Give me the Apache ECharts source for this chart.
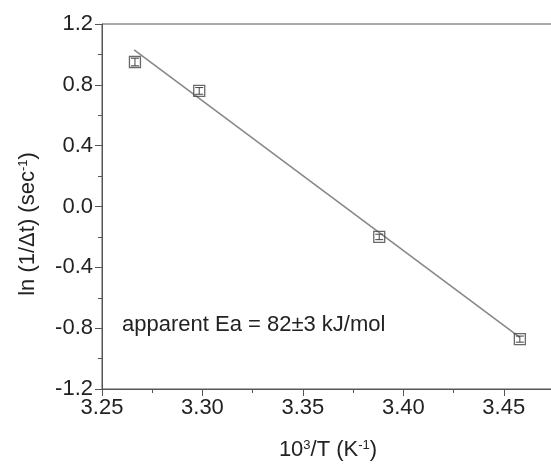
<!DOCTYPE html>
<html>
<head>
<meta charset="utf-8">
<script src="https://cdn.jsdelivr.net/npm/echarts@6/dist/echarts.min.js"></script>
<style>
  html, body { margin: 0; padding: 0; background: #fff; }
  #main { width: 551px; height: 464px; }
</style>
</head>
<body>
<div id="main"></div>
<script>
// 数据
var invT = [3.2664, 3.2984, 3.388, 3.458];
var lnRate = [0.95, 0.76, -0.2, -0.872];
var errs = [0.025, 0.022, 0.018, 0.02];
var fitX = [3.266, 3.458];
var fitY = [1.03, -0.86];

var chart = echarts.init(document.getElementById('main'));

var pts = invT.map(function (x, i) { return [x, lnRate[i], errs[i]]; });
var fit = fitX.map(function (x, i) { return [x, fitY[i]]; });

var axisColor = '#555';
var font = 'Liberation Sans, Arial, sans-serif';

option = {
    animation: false,
    grid: {
        left: 102, top: 24, width: 452, height: 365,
        outerBoundsMode: 'none',
        containLabel: false,
        show: true, borderColor: axisColor, borderWidth: 1
    },
    xAxis: {
        type: 'value', min: 3.25, max: 3.475, interval: 0.05,
        axisLine: { onZero: false, lineStyle: { color: axisColor } },
        axisTick: { length: 7, lineStyle: { color: axisColor } },
        minorTick: { show: true, splitNumber: 2, length: 4, lineStyle: { color: axisColor } },
        splitLine: { show: false },
        axisLabel: {
            color: '#222', fontSize: 22, fontFamily: font, margin: 8,
            showMaxLabel: false,
            formatter: function (v) { return v.toFixed(2); }
        },
        name: '10{s|3}/T (K{s|-1})',
        nameLocation: 'middle', nameGap: 50,
        nameTextStyle: {
            color: '#222', fontSize: 22, fontFamily: font,
            rich: { s: { fontSize: 13, verticalAlign: 'top', fontFamily: font, color: '#222', padding: [0, 0, 9, 0] } }
        }
    },
    yAxis: {
        type: 'value', min: -1.2, max: 1.2, interval: 0.4,
        axisLine: { onZero: false, lineStyle: { color: axisColor } },
        axisTick: { length: 7, lineStyle: { color: axisColor } },
        minorTick: { show: true, splitNumber: 2, length: 4, lineStyle: { color: axisColor } },
        splitLine: { show: false },
        axisLabel: {
            color: '#222', fontSize: 22, fontFamily: font, margin: 9,
            formatter: function (v) { return v.toFixed(1); }
        }
    },
    graphic: [{
        type: 'text',
        x: 28, y: 224,
        rotation: Math.PI / 2,
        style: {
            text: 'ln (1/Δt) (sec{s|-1})',
            fill: '#222', fontSize: 22, fontFamily: font,
            align: 'center', verticalAlign: 'middle',
            rich: { s: { fontSize: 13, fill: '#222', fontFamily: font, verticalAlign: 'top', padding: [0, 0, 9, 0] } }
        }
    }, {
        type: 'text',
        x: 122, y: 325,
        style: {
            text: 'apparent Ea = 82±3 kJ/mol',
            fill: '#222', fontSize: 22, fontFamily: font,
            align: 'left', verticalAlign: 'middle'
        }
    }],
    series: [{
        type: 'line',
        data: fit,
        symbol: 'none',
        lineStyle: { color: '#888', width: 1.6 },
        z: 2
    }, {
        type: 'scatter',
        data: pts,
        symbol: 'rect',
        symbolSize: 11,
        itemStyle: { color: 'rgba(255,255,255,0)', borderColor: '#444', borderWidth: 1.3 },
        z: 3
    }, {
        type: 'custom',
        data: pts,
        renderItem: function (params, api) {
            var x = api.value(0), y = api.value(1), e = api.value(2);
            var hi = api.coord([x, y + e]);
            var lo = api.coord([x, y - e]);
            var w = 4;
            var st = { stroke: '#444', lineWidth: 1 };
            return {
                type: 'group',
                children: [
                    { type: 'line', shape: { x1: hi[0], y1: hi[1], x2: lo[0], y2: lo[1] }, style: st },
                    { type: 'line', shape: { x1: hi[0] - w, y1: hi[1], x2: hi[0] + w, y2: hi[1] }, style: st },
                    { type: 'line', shape: { x1: lo[0] - w, y1: lo[1], x2: lo[0] + w, y2: lo[1] }, style: st }
                ]
            };
        },
        z: 4
    }]
};

chart.setOption(option);
</script>
</body>
</html>
